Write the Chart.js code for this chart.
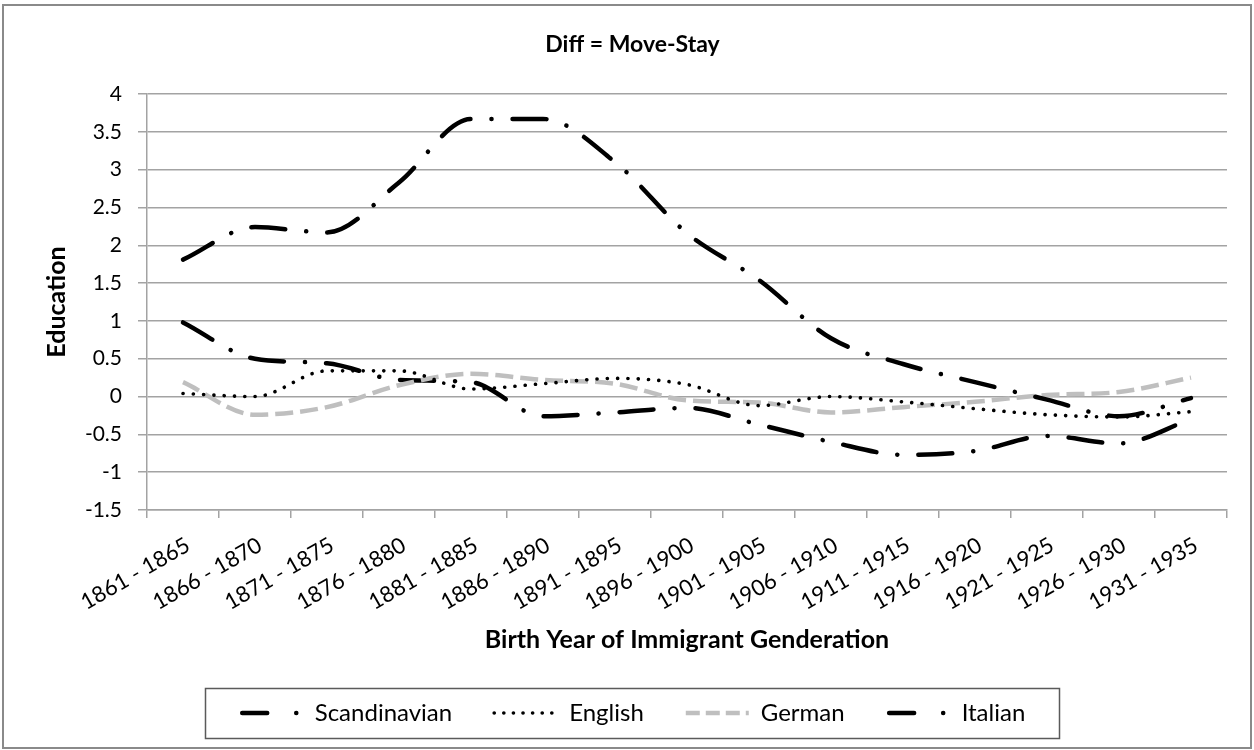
<!DOCTYPE html>
<html><head><meta charset="utf-8">
<script src="https://cdn.jsdelivr.net/npm/chart.js@4/dist/chart.umd.min.js"></script>
<style>html,body{margin:0;padding:0;background:#fff}#wrap{width:1254px;height:750px;position:relative}</style>
</head><body><div id="wrap"><canvas id="c" width="1254" height="750"></canvas></div>
<script>
const categories = ["1861 - 1865","1866 - 1870","1871 - 1875","1876 - 1880","1881 - 1885","1886 - 1890","1891 - 1895","1896 - 1900","1901 - 1905","1906 - 1910","1911 - 1915","1916 - 1920","1921 - 1925","1926 - 1930","1931 - 1935"];
const scandinavian = [1.81, 2.24, 2.17, 2.83, 3.67, 3.67, 3.10, 2.16, 1.54, 0.77, 0.43, 0.19, -0.04, -0.26, -0.02];
const english = [0.04, 0.00, 0.34, 0.34, 0.10, 0.17, 0.24, 0.16, -0.12, 0.00, -0.07, -0.16, -0.24, -0.27, -0.20];
const german = [0.19, -0.24, -0.14, 0.15, 0.30, 0.22, 0.17, -0.05, -0.08, -0.21, -0.14, -0.07, 0.02, 0.06, 0.25];
const italian = [0.98, 0.50, 0.44, 0.22, 0.19, -0.26, -0.21, -0.15, -0.37, -0.60, -0.77, -0.72, -0.52, -0.62, -0.30];
const seriesNames = ["Scandinavian", "English", "German", "Italian"];
const yMin = -1.5, yMax = 4, yStep = 0.5;

const FONT = 'Lato, "Open Sans", sans-serif';
const GRID = '#a3a3a3';
const dashDot = [34, 21, 0.1, 21];

const legendDash = [[25, 29, 0.1, 100], [0.1, 9.5], [14, 6], [25, 29, 0.1, 100]];
const legendOffset = [-2.5, 0, 0, -2.5];
const legendCap = ['round', 'round', 'butt', 'round'];

const framePlugin = {
  id: 'frame',
  beforeDraw(chart) {
    const ctx = chart.ctx;
    ctx.save();
    ctx.fillStyle = '#fff';
    ctx.fillRect(0, 0, chart.width, chart.height);
    ctx.strokeStyle = '#8a8a8a';
    ctx.lineWidth = 2;
    ctx.strokeRect(3, 5, chart.width - 6, chart.height - 7);
    ctx.restore();
  },
  afterDraw(chart) {
    const lg = chart.legend;
    if (!lg || !lg.legendHitBoxes || !lg.legendHitBoxes.length) return;
    const hb = lg.legendHitBoxes;
    const first = hb[0], last = hb[hb.length - 1];
    const cy = first.top + first.height / 2;
    const x0 = first.left - 35, x1 = last.left + last.width + 33;
    const ctx = chart.ctx;
    ctx.save();
    ctx.strokeStyle = '#5a5a5a';
    ctx.lineWidth = 1.5;
    ctx.strokeRect(Math.round(x0) + 0.5, Math.round(cy - 25) + 0.5, Math.round(x1 - x0), 50);
    ctx.restore();
  }
};

const datasets = [
  { label: seriesNames[0], data: scandinavian, borderColor: '#000', borderWidth: 4.5, borderDash: dashDot, borderCapStyle: 'round' },
  { label: seriesNames[1], data: english, borderColor: '#000', borderWidth: 3.6, borderDash: [0.1, 10.2], borderCapStyle: 'round' },
  { label: seriesNames[2], data: german, borderColor: '#bfbfbf', borderWidth: 4.5, borderDash: [18, 7], borderCapStyle: 'butt' },
  { label: seriesNames[3], data: italian, borderColor: '#000', borderWidth: 4.5, borderDash: dashDot, borderCapStyle: 'round' }
].map(d => Object.assign(d, { fill: false, pointRadius: 0, pointHoverRadius: 0, cubicInterpolationMode: 'monotone', backgroundColor: d.borderColor, yAxisID: 'y' }));

new Chart(document.getElementById('c'), {
  type: 'line',
  data: { labels: categories, datasets },
  plugins: [framePlugin],
  options: {
    responsive: false,
    devicePixelRatio: 1,
    animation: false,
    events: [],
    layout: { padding: { left: 14, right: 3, top: 0, bottom: 15 } },
    plugins: {
      tooltip: { enabled: false },
      title: {
        display: true, text: 'Diff = Move-Stay', color: '#000',
        font: { family: FONT, size: 23, weight: 'bold' },
        padding: { top: 31.2, bottom: 35.2 }
      },
      legend: {
        position: 'bottom',
        labels: {
          usePointStyle: true, pointStyle: 'line', pointStyleWidth: 63, boxHeight: 24,
          padding: 42, color: '#000',
          font: { family: FONT, size: 24 },
          generateLabels(chart) {
            return chart.data.datasets.map((ds, i) => ({
              text: ds.label, fillStyle: ds.borderColor, strokeStyle: ds.borderColor,
              lineWidth: ds.borderWidth, lineDash: legendDash[i], lineDashOffset: legendOffset[i],
              lineCap: legendCap[i], pointStyle: 'line', datasetIndex: i, hidden: false, fontColor: '#000'
            }));
          }
        }
      }
    },
    scales: {
      x: {
        offset: true,
        grid: { display: true, drawOnChartArea: false, drawTicks: true, tickLength: 8, color: GRID, lineWidth: 1.5, offset: true },
        border: { display: true, color: GRID, width: 1.5 },
        ticks: { autoSkip: false, maxRotation: 30, minRotation: 30, color: '#000', padding: 14, labelOffset: 5, font: { family: FONT, size: 22 } },
        title: { display: true, text: 'Birth Year of Immigrant Genderation', color: '#000', font: { family: FONT, size: 25, weight: 'bold' }, padding: { top: 0, bottom: 4 } },
        afterFit(s) { const lh = s.chart.legend ? s.chart.legend.height : 0; s.height = s.chart.height - 15 - lh - 510; }
      },
      y: {
        position: 'left',
        min: yMin, max: yMax,
        ticks: { stepSize: yStep, color: '#000', padding: 16, font: { family: FONT, size: 21 },
          callback: v => String(Number(v.toFixed(1))) },
        grid: { color: GRID, lineWidth: 1.5, tickLength: 9 },
        border: { display: true, color: GRID, width: 1.5 },
        title: { display: true, text: 'Education', color: '#000', font: { family: FONT, size: 25, weight: 'bold' }, padding: { top: 28, bottom: 0 } },
        afterFit(s) { s.width = 133; }
      },
      yRight: {
        type: 'linear', position: 'right', min: yMin, max: yMax,
        grid: { display: false, drawTicks: false }, border: { display: false },
        ticks: { display: false }, title: { display: false },
        afterFit(s) { s.width = 24; }
      }
    }
  }
});
</script></body></html>
